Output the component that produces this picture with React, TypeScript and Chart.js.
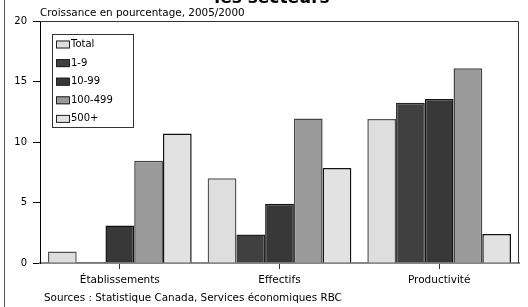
import React, { useEffect, useRef } from "react";
import { Chart, registerables } from "chart.js";

Chart.register(...registerables);

const categories = ["Établissements", "Effectifs", "Productivité"];
const seriesNames = ["Total", "1-9", "10-99", "100-499", "500+"];
const totalValues = [0.95, 7.0, 11.9];
const small19Values = [0.08, 2.35, 13.25];
const mid1099Values = [3.1, 4.9, 13.55];
const mid100499Values = [8.45, 11.95, 16.1];
const large500Values = [10.7, 7.85, 2.4];
const yTicks = [0, 5, 10, 15, 20];

const titleText = "les secteurs";
const subtitleText = "Croissance en pourcentage, 2005/2000";
const sourceText = "Sources : Statistique Canada, Services économiques RBC";

const FONT = "'DejaVu Sans', sans-serif";

const fills = ["#dedede", "#404040", "#383838", "#9a9a9a", "#e2e2e2"];
const borders = ["#555555", "#222222", "#111111", "#444444", "#111111"];

const decorPlugin = {
  id: "decor",
  afterDraw(chart: any) {
    const ctx = chart.ctx;
    const area = chart.chartArea;
    ctx.save();
    ctx.strokeStyle = "#555";
    ctx.lineWidth = 1;
    ctx.beginPath();
    ctx.moveTo(4.5, 0);
    ctx.lineTo(4.5, 307);
    ctx.stroke();
    ctx.strokeStyle = "#333";
    ctx.beginPath();
    ctx.moveTo(area.left, area.top + 0.5);
    ctx.lineTo(area.right - 0.5, area.top + 0.5);
    ctx.lineTo(area.right - 0.5, area.bottom);
    ctx.stroke();
    ctx.fillStyle = "#000";
    ctx.font = `bold 17px ${FONT}`;
    ctx.textAlign = "center";
    ctx.textBaseline = "alphabetic";
    ctx.fillText(titleText, 272, 3);
    ctx.font = `10.4px ${FONT}`;
    ctx.textAlign = "left";
    ctx.textBaseline = "middle";
    ctx.fillText(subtitleText, 40, 13);
    ctx.fillText(sourceText, 44, 298);
    const lx = 52, ly = 34, lw = 81, lh = 93;
    ctx.fillStyle = "#fff";
    ctx.fillRect(lx, ly, lw, lh);
    ctx.strokeStyle = "#333";
    ctx.strokeRect(lx + 0.5, ly + 0.5, lw, lh);
    chart.data.datasets.forEach((ds: any, i: number) => {
      const cy = 44.5 + i * 18.6;
      ctx.fillStyle = ds.backgroundColor;
      ctx.fillRect(56, cy - 4, 13, 8);
      ctx.strokeStyle = "#222";
      ctx.strokeRect(56.5, cy - 3.5, 13, 7);
      ctx.fillStyle = "#000";
      ctx.font = `10px ${FONT}`;
      ctx.textAlign = "left";
      ctx.textBaseline = "middle";
      ctx.fillText(ds.label, 71, cy);
    });
    ctx.restore();
  },
};

export default function App() {
  const ref = useRef<HTMLCanvasElement>(null);
  useEffect(() => {
    document.body.style.margin = "0";
    const values = [totalValues, small19Values, mid1099Values, mid100499Values, large500Values];
    const chart = new Chart(ref.current!, {
      type: "bar",
      data: {
        labels: categories,
        datasets: seriesNames.map((name, i) => ({
          label: name,
          data: values[i],
          backgroundColor: fills[i],
          borderColor: borders[i],
          borderWidth: 1.5,
          categoryPercentage: 0.9,
          barPercentage: 1.0,
        })),
      },
      options: {
        animation: false,
        responsive: false,
        maintainAspectRatio: false,
        layout: { padding: { left: 0, right: 9, top: 21, bottom: 0 } },
        plugins: { legend: { display: false }, tooltip: { enabled: false }, title: { display: false } },
        scales: {
          x: {
            grid: { drawOnChartArea: false, offset: false, tickLength: 6, tickColor: "#333" },
            border: { color: "#888", width: 2 },
            ticks: { color: "#000", font: { family: FONT, size: 10.5 }, padding: 5 },
            afterFit: (s: any) => { s.height = 44; },
          },
          y: {
            min: 0,
            max: 20,
            afterBuildTicks: (s: any) => { s.ticks = yTicks.map((v) => ({ value: v })); },
            grid: { drawOnChartArea: false, tickLength: 7, tickColor: "#000" },
            border: { color: "#000", width: 1 },
            ticks: { color: "#000", font: { family: FONT, size: 10 }, padding: 6 },
            afterFit: (s: any) => { s.width = 40; },
          },
        },
      },
      plugins: [decorPlugin],
    });
    return () => chart.destroy();
  }, []);
  return (
    <div style={{ width: 528, height: 307 }}>
      <canvas ref={ref} width={528} height={307} style={{ display: "block" }} />
    </div>
  );
}
